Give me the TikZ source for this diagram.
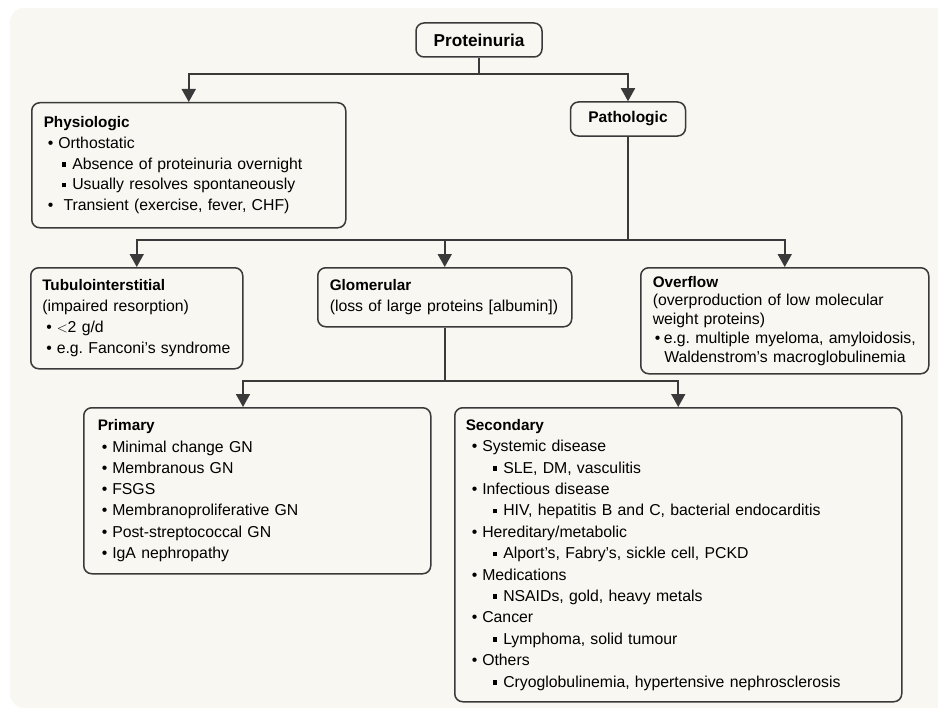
\documentclass[tikz,border=0pt]{standalone}
\usepackage{fontspec}
\setmainfont{Liberation Sans}
\usetikzlibrary{arrows.meta}

\definecolor{paper}{HTML}{F8F7F1}
\definecolor{ink}{HTML}{3A3A3A}

% bullet levels
\newcommand{\bul}{\hspace*{4pt}\textbullet\hspace{5pt}}
\newcommand{\sqr}{\hspace*{18pt}\rule[2.5pt]{4.5pt}{4.5pt}\hspace{6pt}}
\newcommand{\bulw}{\hspace*{6pt}\textbullet\hspace{5pt}}
\newcommand{\sqrw}{\hspace*{27pt}\rule[2.5pt]{4.5pt}{4.5pt}\hspace{6pt}}
\newcommand{\hd}[1]{{\fontsize{15.3}{15}\selectfont\bfseries #1}}

\tikzset{
  box/.style={draw=ink, line width=1.5pt, rounded corners=8pt, fill=paper,
    anchor=north west, align=left, inner xsep=12pt, inner ysep=0pt,
    font=\fontsize{15.8}{21.2}\selectfont\frenchspacing,
    execute at begin node={\rightskip=0pt plus 1fil minus 40pt\relax}},
  titlebox/.style={draw=ink, line width=1.5pt, rounded corners=8pt, fill=paper,
    align=center, inner sep=0pt, font=\fontsize{15.5}{19}\selectfont\bfseries},
  link/.style={draw=ink, line width=1.8pt},
  arr/.style={link, -{Triangle[width=14pt,length=13pt]}}
}

\begin{document}
\begin{tikzpicture}[x=1pt, y=-1pt]
  \useasboundingbox (0,0) rectangle (938,709);
  \fill[paper, rounded corners=14pt] (10,8) rectangle (970,708);

  % top level
  \node[titlebox, minimum width=126pt, minimum height=34pt, font=\fontsize{17.2}{19}\selectfont\bfseries] (prot) at (479,40) {Proteinuria};
  \node[box, minimum height=125pt, text width=290pt, font=\fontsize{15.8}{20.8}\selectfont\frenchspacing] (phys) at (31,102)
    {\hd{Physiologic}\\
     \bul Orthostatic\\
     \sqr Absence of proteinuria overnight\\
     \sqr Usually resolves spontaneously\\
     \bul\ Transient (exercise, fever, CHF)};
  \node[titlebox, minimum width=115pt, minimum height=34pt] (path) at (628,119) {Pathologic};

  % second level
  \node[box, minimum height=101pt, text width=189pt, inner xsep=11.5pt] (tub) at (30,267)
    {\hd{Tubulointerstitial}\\
     (impaired resorption)\\
     \bul $<$2 g/d\\
     \bul e.g. Fanconi’s syndrome};
  \node[box, minimum height=59pt, text width=230pt, inner xsep=12pt] (glom) at (317,267)
    {\hd{Glomerular}\\
     (loss of large proteins [albumin])};
  \node[box, minimum height=106pt, text width=264pt,
        font=\fontsize{15.8}{18.8}\selectfont\frenchspacing] (over) at (640,267)
    {\hd{Overflow}\\
     (overproduction of low molecular\\
     weight proteins)\\
     \hspace*{2pt}\textbullet\hspace{3.5pt}e.g. multiple myeloma, amyloidosis,\\
     \hspace*{11.5pt}Waldenstrom’s macroglobulinemia};

  % glomerular causes
  \node[box, minimum height=166pt, text width=319pt, inner xsep=14pt,
        font=\fontsize{15.8}{21.3}\selectfont\frenchspacing] (prim) at (83,407)
    {\hd{Primary}\\
     \bul Minimal change GN\\
     \bul Membranous GN\\
     \bul FSGS\\
     \bul Membranoproliferative GN\\
     \bul Post-streptococcal GN\\
     \bul IgA nephropathy};
  \node[box, minimum height=294pt, text width=425pt, inner xsep=11pt,
        font=\fontsize{15.8}{21.4}\selectfont\frenchspacing] (sec) at (454,407)
    {\hd{Secondary}\\
     \bulw Systemic disease\\
     \sqrw SLE, DM, vasculitis\\
     \bulw Infectious disease\\
     \sqrw HIV, hepatitis B and C, bacterial endocarditis\\
     \bulw Hereditary/metabolic\\
     \sqrw Alport’s, Fabry’s, sickle cell, PCKD\\
     \bulw Medications\\
     \sqrw NSAIDs, gold, heavy metals\\
     \bulw Cancer\\
     \sqrw Lymphoma, solid tumour\\
     \bulw Others\\
     \sqrw Cryoglobulinemia, hypertensive nephrosclerosis};

  % connectors
  \coordinate (j1) at (479,74);
  \coordinate (j2) at (628,240);
  \coordinate (j3) at (444,381);
  \coordinate (p1) at (243,407);

  \draw[link] (prot.south) -- (prot.south |- j1);
  \draw[arr] (j1) -| (phys.north);
  \draw[arr] (j1) -| (path.north);

  \draw[link] (path.south) -- (path.south |- j2);
  \draw[arr] (j2) -| (tub.north);
  \draw[arr] (j2) -| (over.north);
  \draw[arr] (j2 -| glom.north) -- (glom.north);

  \draw[link] (glom.south) -- (glom.south |- j3);
  \draw[arr] (j3) -| (p1);
  \draw[arr] (j3) -| (sec.north);
\end{tikzpicture}
\end{document}
